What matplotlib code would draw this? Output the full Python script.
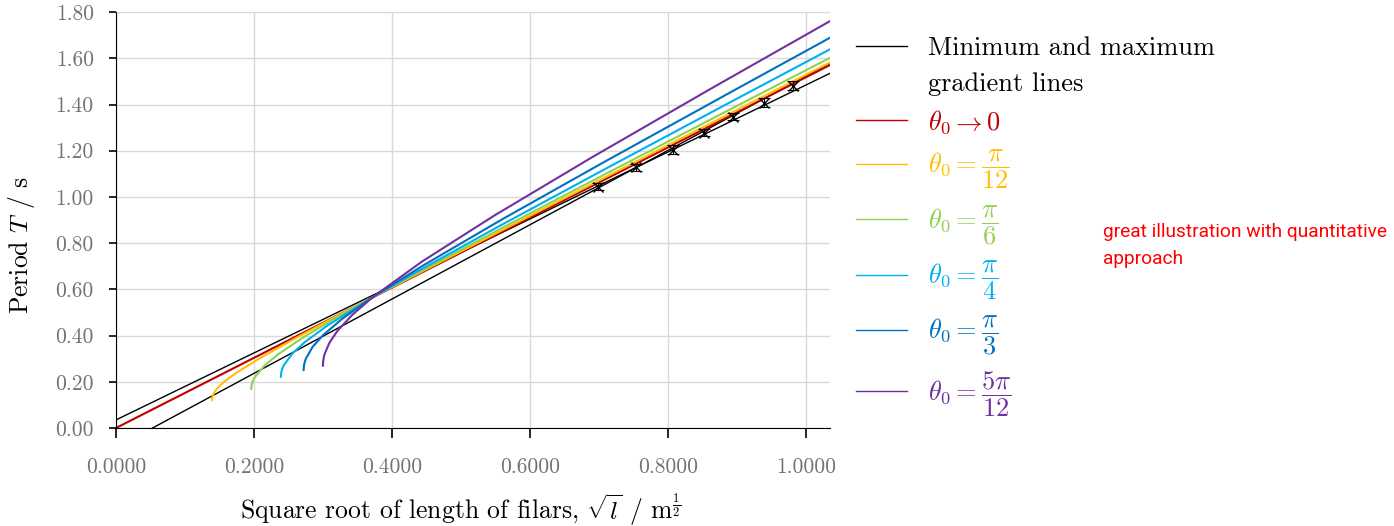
import matplotlib as mpl
import numpy as np
from matplotlib import pyplot as plt
from matplotlib.ticker import FormatStrFormatter, MultipleLocator

mpl.rcParams['font.family'] = 'cmr10'
mpl.rcParams['mathtext.fontset'] = 'cm'
mpl.rcParams['axes.formatter.use_mathtext'] = True

# Measured data (sqrt(l), T)
sqrt_l = [0.698, 0.754, 0.808, 0.852, 0.895, 0.939, 0.982]
period = [1.044, 1.128, 1.205, 1.278, 1.347, 1.408, 1.482]
period_err = [0.015, 0.015, 0.02, 0.015, 0.015, 0.02, 0.02]

# Min / max gradient lines (end points)
min_grad_x = [0.0, 1.035]
min_grad_y = [0.035, 1.535]
max_grad_x = [0.053, 1.035]
max_grad_y = [0.0, 1.579]

# Model curves for different release angles
red_x = [0.0, 1.035]
red_y = [0.0, 1.571]
pi12_x = [0.139, 0.1403, 0.1428, 0.1466, 0.1571, 0.1754, 0.2079, 0.2555, 0.3115, 0.372, 0.4719, 0.6346, 0.8308, 1.035]
pi12_y = [0.121, 0.141, 0.156, 0.171, 0.201, 0.241, 0.301, 0.381, 0.471, 0.566, 0.721, 0.971, 1.271, 1.582]
pi6_x = [0.196, 0.1968, 0.1985, 0.2010, 0.2149, 0.2351, 0.2698, 0.3143, 0.372, 0.4355, 0.5618, 0.7222, 0.8838, 1.035]
pi6_y = [0.169, 0.189, 0.204, 0.219, 0.269, 0.319, 0.389, 0.469, 0.566, 0.669, 0.869, 1.119, 1.369, 1.602]
pi4_x = [0.239, 0.2397, 0.2412, 0.2434, 0.2556, 0.2738, 0.3057, 0.372, 0.4335, 0.5545, 0.7097, 0.8980, 1.035]
pi4_y = [0.222, 0.242, 0.257, 0.272, 0.322, 0.372, 0.442, 0.566, 0.672, 0.872, 1.122, 1.422, 1.639]
pi3_x = [0.272, 0.2725, 0.2737, 0.2754, 0.2850, 0.2999, 0.3272, 0.372, 0.4439, 0.5585, 0.7075, 0.8896, 1.035]
pi3_y = [0.251, 0.271, 0.286, 0.301, 0.351, 0.401, 0.471, 0.566, 0.701, 0.901, 1.151, 1.451, 1.689]
pi512_x = [0.300, 0.3004, 0.3012, 0.3024, 0.3096, 0.3209, 0.3426, 0.372, 0.4434, 0.5487, 0.6891, 0.8632, 1.035]
pi512_y = [0.270, 0.290, 0.305, 0.320, 0.370, 0.420, 0.490, 0.566, 0.720, 0.920, 1.170, 1.470, 1.761]

curves = [
    (red_x, red_y, r'$\theta_0 \to 0$', '#c00000'),
    (pi12_x, pi12_y, r'$\theta_0 = \dfrac{\pi}{12}$', '#ffc000'),
    (pi6_x, pi6_y, r'$\theta_0 = \dfrac{\pi}{6}$', '#92d050'),
    (pi4_x, pi4_y, r'$\theta_0 = \dfrac{\pi}{4}$', '#00b0f0'),
    (pi3_x, pi3_y, r'$\theta_0 = \dfrac{\pi}{3}$', '#0070c0'),
    (pi512_x, pi512_y, r'$\theta_0 = \dfrac{5\pi}{12}$', '#7030a0'),
]

fig = plt.figure(figsize=(13.94, 5.26), dpi=100)
ax = fig.add_axes([0.0832, 0.1863, 0.5122, 0.7907])

# Gradient lines
ax.plot(min_grad_x, min_grad_y, color='black', linewidth=1, label='Minimum and maximum')
ax.plot(max_grad_x, max_grad_y, color='black', linewidth=1)
ax.plot([], [], color='none', label='gradient lines')

for xs, ys, label, color in curves:
    ax.plot(xs, ys, color=color, linewidth=1.5, label=label)

ax.errorbar(sqrt_l, period, yerr=period_err, fmt='x', color='black', markersize=7,
            elinewidth=0.8, capsize=4, capthick=0.8)

ax.set_xlim(0, 1.035)
ax.set_ylim(0, 1.80)
ax.xaxis.set_major_locator(MultipleLocator(0.2))
ax.yaxis.set_major_locator(MultipleLocator(0.2))
ax.xaxis.set_major_formatter(FormatStrFormatter('%.4f'))
ax.yaxis.set_major_formatter(FormatStrFormatter('%.2f'))
ax.grid(True, color='#d9d9d9', linewidth=1)
ax.set_axisbelow(True)
for side in ['top', 'right']:
    ax.spines[side].set_visible(False)
ax.tick_params(axis='both', labelsize=15.5, labelcolor='#737373', length=5, width=1.2)
ax.tick_params(axis='x', pad=14, length=7)
ax.tick_params(axis='y', pad=11)

ax.set_xlabel(r'Square root of length of filars, $\sqrt{l}$ / m$^{\frac{1}{2}}$', fontsize=18.5, va='center')
ax.xaxis.set_label_coords(0.4825, -0.197)
ax.set_ylabel(r'Period $T$ / s', fontsize=18.5, va='center')
ax.yaxis.set_label_coords(-0.1317, 0.44)

leg = ax.legend(loc='upper left', bbox_to_anchor=(1.037, 0.942), frameon=False, fontsize=19,
                handlelength=1.9, handletextpad=0.83, labelspacing=0.46, borderaxespad=0, borderpad=0)
colors = ['black', 'black', '#c00000', '#ffc000', '#92d050', '#00b0f0', '#0070c0', '#7030a0']
for text, color in zip(leg.get_texts(), colors):
    text.set_color(color)
for handle in leg.legend_handles:
    handle.set_linewidth(1)

fig.text(1103 / 1394, 1 - 245.5 / 526, 'great illustration with quantitative\napproach', color='red',
         fontsize=13.8, family='Roboto', va='center', linespacing=1.6)

fig.savefig('out.png', dpi=100)
